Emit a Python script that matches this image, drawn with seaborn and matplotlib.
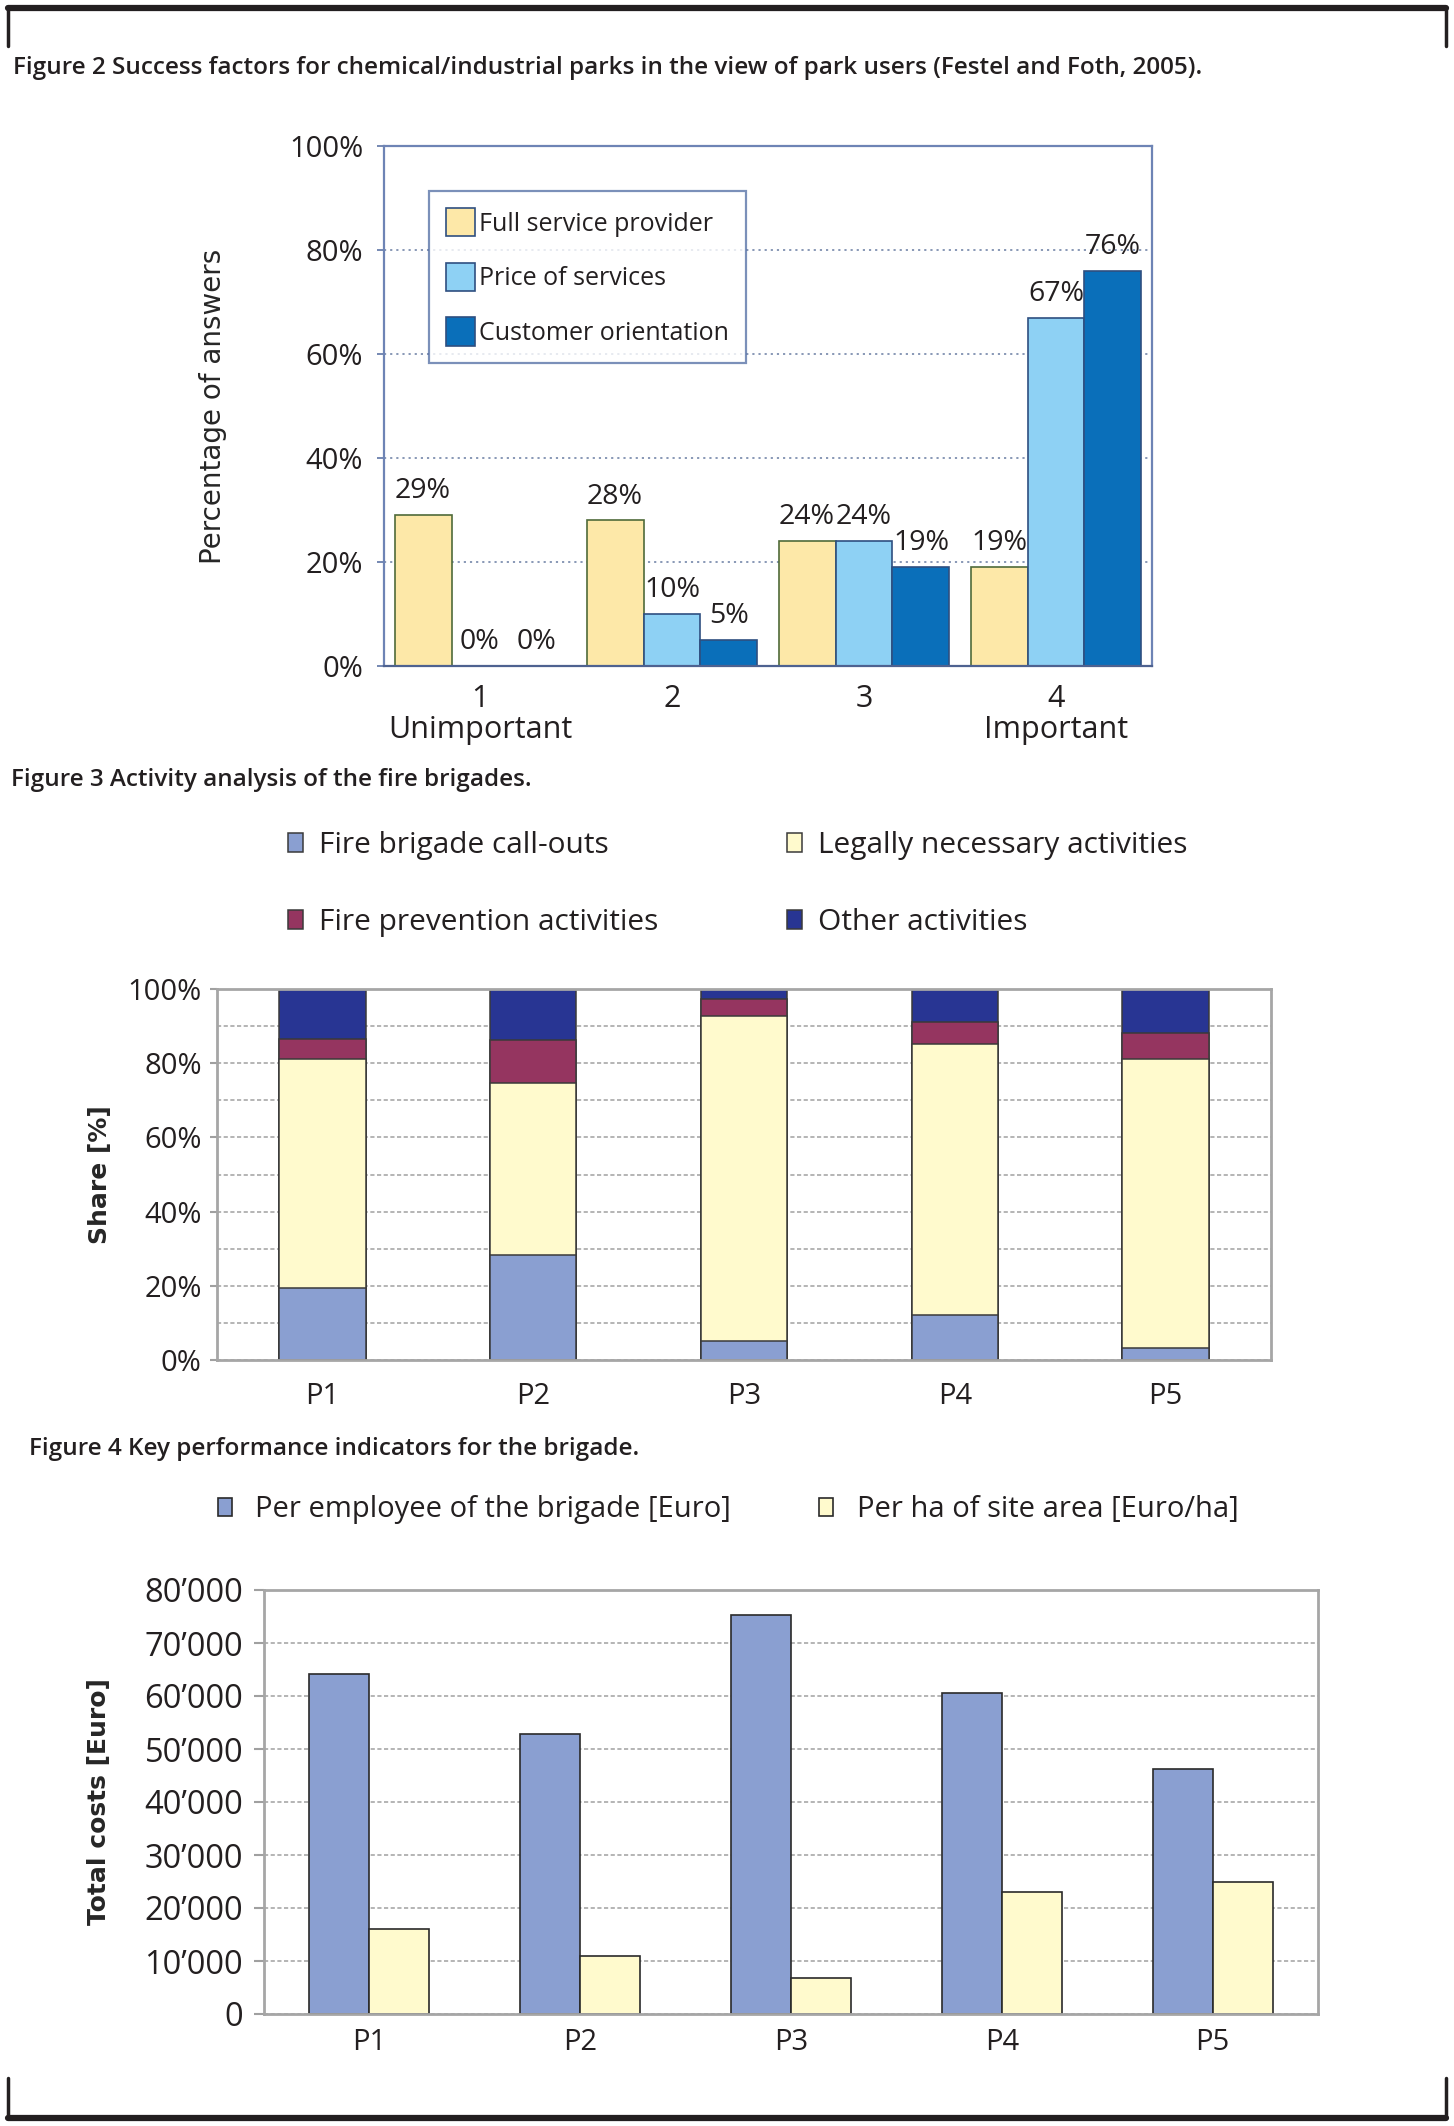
# Recreates the three figures (park success factors, fire brigade activity
# shares and brigade KPIs) stacked on one page
import numpy as np
import pandas as pd
import seaborn as sns
import matplotlib.pyplot as plt
from matplotlib.lines import Line2D
from matplotlib.ticker import FuncFormatter, MultipleLocator

W, H = 1454, 2126

# Figure 2: success factors
levels = ['1\nUnimportant', '2', '3', '4\nImportant']
factors = ['Full service provider', 'Price of services', 'Customer orientation']
full_service = [29, 28, 24, 19]
price_services = [0, 10, 24, 67]
customer_orient = [0, 5, 19, 76]

# Figure 3: activity shares in %, listed bottom to top of each bar
parks = ['P1', 'P2', 'P3', 'P4', 'P5']
activities = ['Fire brigade call-outs', 'Legally necessary activities',
              'Fire prevention activities', 'Other activities']
callouts = [19.5, 28.2, 5.0, 12.2, 3.1]
legal = [61.7, 46.5, 87.6, 73.0, 78.1]
prevention = [5.2, 11.5, 4.7, 5.8, 7.0]
other = [13.6, 13.8, 2.7, 9.0, 11.8]

# Figure 4: key performance indicators
kpis = ['Per employee of the brigade [Euro]', 'Per ha of site area [Euro/ha]']
per_employee = [64100, 52800, 75200, 60600, 46200]
per_ha = [16000, 10900, 6700, 23000, 24900]

sns.set_theme(style='white')
plt.rcParams['font.family'] = ['Open Sans', 'DejaVu Sans']
plt.rcParams['text.color'] = '#231f20'
plt.rcParams['xtick.color'] = '#231f20'
plt.rcParams['ytick.color'] = '#231f20'

fig = plt.figure(figsize=(W / 100, H / 100), dpi=100)


# pixel box (left, top, right, bottom) -> figure fraction rect
def box(l, t, r, b):
    return [l / W, 1 - b / H, (r - l) / W, (b - t) / H]


def fx(x):
    return x / W


def fy(y):
    return 1 - y / H


# page brackets
ink = '#231f20'
fig.add_artist(Line2D([fx(8), fx(1446)], [fy(8), fy(8)], color=ink, lw=4.5,
                      transform=fig.transFigure))
fig.add_artist(Line2D([fx(8), fx(8)], [fy(8), fy(46)], color=ink, lw=2.5,
                      transform=fig.transFigure))
fig.add_artist(Line2D([fx(1446), fx(1446)], [fy(8), fy(46)], color=ink,
                      lw=2.5, transform=fig.transFigure))
fig.add_artist(Line2D([fx(8), fx(1446)], [fy(2118), fy(2118)], color=ink,
                      lw=4.5, transform=fig.transFigure))
fig.add_artist(Line2D([fx(8), fx(8)], [fy(2078), fy(2118)], color=ink,
                      lw=2.5, transform=fig.transFigure))
fig.add_artist(Line2D([fx(1446), fx(1446)], [fy(2078), fy(2118)], color=ink,
                      lw=2.5, transform=fig.transFigure))

title_kw = dict(fontsize=17.5, fontweight='semibold', va='center', ha='left')
fig.text(fx(13), fy(68), 'Figure 2 Success factors for chemical/industrial '
         'parks in the view of park users (Festel and Foth, 2005).', **title_kw)
fig.text(fx(11), fy(780), 'Figure 3 Activity analysis of the fire brigades.',
         **title_kw)
fig.text(fx(29), fy(1449), 'Figure 4 Key performance indicators for the '
         'brigade.', **title_kw)

pct = FuncFormatter(lambda v, p: f'{v:.0f}%')

# ---- Figure 2 ----
df1 = pd.DataFrame({'level': levels * 3,
                    'factor': np.repeat(factors, len(levels)),
                    'value': full_service + price_services + customer_orient})
ax1 = fig.add_axes(box(384, 146, 1152, 666))
sns.barplot(data=df1, x='level', y='value', hue='factor', hue_order=factors,
            palette=['#FDE8A8', '#8ED1F4', '#0A6FBA'], saturation=1,
            width=0.89, edgecolor='#2F4F80', linewidth=1.2, errorbar=None,
            ax=ax1)
for p in ax1.containers[0]:
    p.set_edgecolor('#4F6B3A')
for c in ax1.containers:
    ax1.bar_label(c, fmt='%d%%', padding=7, fontsize=20.5)

ax1.set_ylim(0, 100)
ax1.set_xlim(-0.5, 3.5)
ax1.yaxis.set_major_locator(MultipleLocator(20))
ax1.yaxis.set_major_formatter(pct)
ax1.set_xticks([-0.5, 0.5, 1.5, 2.5, 3.5], minor=True)
ax1.tick_params(axis='x', which='major', length=0, pad=13, labelsize=22)
ax1.tick_params(axis='x', which='minor', length=9, width=1.5,
                color='#5E74A6')
ax1.tick_params(axis='y', length=5, width=1.2, color='#5E74A6',
                labelsize=21, pad=10, left=True)
for lbl in ax1.get_xticklabels():
    lbl.set_linespacing(1.05)
ax1.yaxis.grid(True, linestyle=(0, (1.2, 2.2)), color='#7F90B0', lw=1.3)
ax1.set_axisbelow(True)
for s in ax1.spines.values():
    s.set_color('#6E84B5')
    s.set_linewidth(1.6)
ax1.spines['bottom'].set_color('#4E6290')
ax1.set_xlabel('')
ax1.set_ylabel('Percentage of answers', fontsize=20, family='DejaVu Sans')
ax1.yaxis.set_label_coords(-0.205, 0.5)
sns.move_legend(ax1, 'upper left', bbox_to_anchor=(0.058, 0.914),
                title=None, frameon=True, fancybox=False, fontsize=18,
                handlelength=1.15, handleheight=1.35, handletextpad=0.15,
                labelspacing=1.05, borderpad=0.7, borderaxespad=0)
leg1 = ax1.get_legend()
leg1.get_frame().set_edgecolor('#5A74A8')
leg1.get_frame().set_linewidth(1.6)

# ---- Figure 3 ----
shares = np.array([callouts, legal, prevention, other])
tops = np.cumsum(shares, axis=0)
df2 = pd.DataFrame({'park': parks * len(activities),
                    'activity': np.repeat(activities, len(parks)),
                    'top': tops.ravel()})
pal2 = dict(zip(activities, ['#8A9FD1', '#FFFACD', '#953560', '#283593']))
ax2 = fig.add_axes(box(217, 989, 1271, 1360))
# tallest layer first so lower layers sit on top -> stacked look
sns.barplot(data=df2, x='park', y='top', hue='activity',
            hue_order=activities[::-1], palette=pal2, saturation=1,
            dodge=False, width=0.41, edgecolor='#3a3a3a', linewidth=1.1,
            errorbar=None, ax=ax2)
ax2.set_ylim(0, 100)
ax2.set_xlim(-0.5, 4.5)
ax2.yaxis.set_major_locator(MultipleLocator(20))
ax2.yaxis.set_minor_locator(MultipleLocator(10))
ax2.yaxis.set_major_formatter(pct)
ax2.set_xticks(np.arange(-0.5, 5, 1), minor=True)
ax2.tick_params(axis='x', which='major', length=0, pad=16, labelsize=21)
ax2.tick_params(axis='x', which='minor', length=9, width=1.5,
                color='#A0A0A0')
ax2.tick_params(axis='y', which='major', length=5, width=1.5,
                color='#A0A0A0', labelsize=21, pad=6, left=True)
ax2.tick_params(axis='y', which='minor', length=0)
ax2.yaxis.grid(True, which='both', linestyle=(0, (2.5, 1.5)),
               color='#A8A8A8', lw=1.2)
ax2.set_axisbelow(True)
for s in ax2.spines.values():
    s.set_color('#A6A6A6')
    s.set_linewidth(2)
ax2.set_xlabel('')
ax2.set_ylabel('Share [%]', fontsize=18, fontweight='bold',
               family='DejaVu Sans')
ax2.yaxis.set_label_coords(-0.1, 0.5)
leg = ax2.get_legend()
h2 = dict(zip([t.get_text() for t in leg.get_texts()], leg.legend_handles))
order2 = [activities[0], activities[2], activities[1], activities[3]]
ax2.legend([h2[a] for a in order2], order2, ncol=2, loc='center',
           bbox_to_anchor=(fx(738), fy(884)), bbox_transform=fig.transFigure,
           frameon=False, fontsize=21.5, handlelength=0.5, handleheight=0.6,
           handletextpad=0.55, labelspacing=1.6, columnspacing=4.3)

# ---- Figure 4 ----
df3 = pd.DataFrame({'park': parks * 2,
                    'kpi': np.repeat(kpis, len(parks)),
                    'cost': per_employee + per_ha})
ax3 = fig.add_axes(box(264, 1590, 1318, 2014))
sns.barplot(data=df3, x='park', y='cost', hue='kpi', hue_order=kpis,
            palette=['#8A9FD1', '#FFFACD'], saturation=1, width=0.57,
            edgecolor='#2a2a2a', linewidth=1.2, errorbar=None, ax=ax3)
ax3.set_ylim(0, 80000)
ax3.set_xlim(-0.5, 4.5)
ax3.yaxis.set_major_locator(MultipleLocator(10000))
ax3.yaxis.set_major_formatter(
    FuncFormatter(lambda v, p: f'{v / 1000:.0f}\u2019000' if v else '0'))
ax3.set_xticks(np.arange(-0.5, 5, 1), minor=True)
ax3.tick_params(axis='x', which='major', length=0, pad=10, labelsize=21)
ax3.tick_params(axis='x', which='minor', length=9, width=1.5,
                color='#A0A0A0')
ax3.tick_params(axis='y', length=7, width=1.5, color='#A0A0A0',
                labelsize=23.5, pad=8, left=True)
ax3.yaxis.grid(True, linestyle=(0, (2.5, 1.5)), color='#A8A8A8', lw=1.2)
ax3.set_axisbelow(True)
for s in ax3.spines.values():
    s.set_color('#A6A6A6')
    s.set_linewidth(2)
ax3.set_xlabel('')
ax3.set_ylabel('Total costs [Euro]', fontsize=18, fontweight='bold',
               family='DejaVu Sans')
ax3.yaxis.set_label_coords(-0.145, 0.5)
sns.move_legend(ax3, 'center', bbox_to_anchor=(fx(728), fy(1510)),
                bbox_transform=fig.transFigure, ncol=2, title=None,
                frameon=False, fontsize=21, handlelength=0.5,
                handleheight=0.6, handletextpad=0.8, columnspacing=3.0)

fig.savefig('out.png', dpi=100)
